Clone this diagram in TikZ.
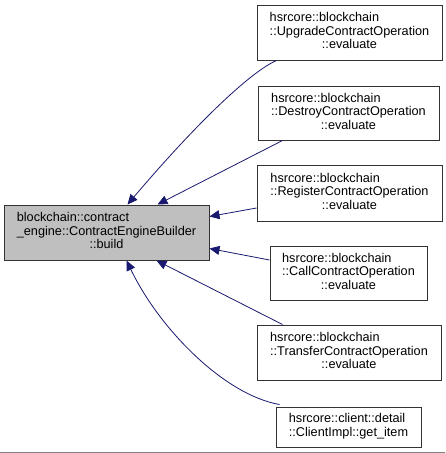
\documentclass[tikz,border=0pt]{standalone}
\usepackage{fontspec}
\setmainfont{Liberation Sans}
\usetikzlibrary{arrows.meta,calc}
\definecolor{edgeblue}{HTML}{191970}
\definecolor{mainfill}{HTML}{BFBFBF}
\definecolor{boxline}{HTML}{333333}
\newcommand{\lbl}[3]{\begin{tabular}{@{}l@{}}#1\\#2\\\multicolumn{1}{@{}c@{}}{#3}\end{tabular}}
\newcommand{\lbltwo}[2]{\begin{tabular}{@{}l@{}}#1\\\multicolumn{1}{@{}c@{}}{#2}\end{tabular}}
\begin{document}
\begin{tikzpicture}[x=1pt,y=-1pt,
  every node/.style={font=\fontsize{12.7}{13.4}\selectfont},
  cbox/.style={draw=boxline,line width=1pt,fill=white,inner sep=0pt,align=center},
  mainbox/.style={cbox,fill=mainfill},
  edge/.style={draw=edgeblue,line width=0.8pt,-{Triangle[length=10pt,width=9pt]}}]
\useasboundingbox[fill=white] (0,0) rectangle (445,453);
\draw[gray,line width=1pt] (0,452) -- (445,452);

\node[mainbox,minimum width=205pt,minimum height=55pt] (main) at (106.5,232.5)
  {\lbl{blockchain::contract}{\_engine::ContractEngineBuilder}{::build}};

\node[cbox,minimum width=185pt,minimum height=55pt] (up) at (349.5,32.5)
  {\lbl{hsrcore::blockchain}{::UpgradeContractOperation}{::evaluate}};
\node[cbox,minimum width=181pt,minimum height=54pt] (de) at (348.5,113)
  {\lbl{hsrcore::blockchain}{::DestroyContractOperation}{::evaluate}};
\node[cbox,minimum width=185pt,minimum height=56pt] (re) at (349.5,193)
  {\lbl{hsrcore::blockchain}{::RegisterContractOperation}{::evaluate}};
\node[cbox,minimum width=157pt,minimum height=54pt] (ca) at (348.5,273)
  {\lbl{hsrcore::blockchain}{::CallContractOperation}{::evaluate}};
\node[cbox,minimum width=184pt,minimum height=55pt] (tr) at (349,352.5)
  {\lbl{hsrcore::blockchain}{::TransferContractOperation}{::evaluate}};
\node[cbox,minimum width=145pt,minimum height=40pt] (cl) at (348.5,427)
  {\lbltwo{hsrcore::client::detail}{::ClientImpl::get\_item}};

\draw[edge] ($(up.south west)+(20,0)$) .. controls (250,72) and (195,125) .. ($(main.north west)+(124,0)$);
\draw[edge] ($(de.south west)+(25,0)$) -- ($(main.north west)+(154,0)$);
\draw[edge] ($(re.west)+(0,15)$) -- ($(main.east)+(0,-16)$);
\draw[edge] ($(ca.west)+(0,-13)$) -- ($(main.east)+(0,16)$);
\draw[edge] ($(tr.north west)+(26,0)$) -- ($(main.south west)+(153,0)$);
\draw[edge] ($(cl.north west)+(4,-2)$) .. controls (225,395) and (160,330) .. ($(main.south west)+(123,0)$);
\end{tikzpicture}
\end{document}
